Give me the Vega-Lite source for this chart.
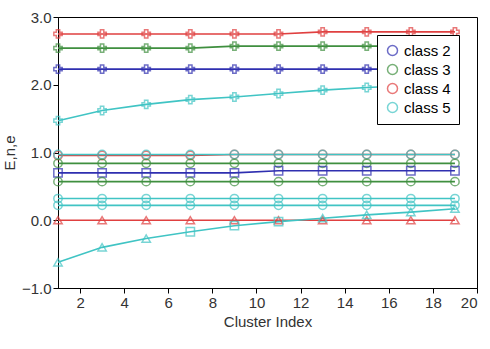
{
  "$schema": "https://vega.github.io/schema/vega-lite/v6.json",
  "width": 419,
  "height": 271,
  "autosize": {"type": "none"},
  "padding": {"left": 58, "top": 17, "right": 13, "bottom": 61},
  "background": "white",
  "config": {
    "view": {"stroke": "black", "strokeWidth": 1},
    "axis": {"grid": false, "domainColor": "black", "tickColor": "black", "labelColor": "#333", "titleColor": "#333", "labelFont": "Liberation Sans", "titleFont": "Liberation Sans", "labelFontSize": 15, "titleFontSize": 15, "titleFontWeight": "normal"}
  },
  "data": {"values": [
    {"s":"E2","c":"class 2","m":"d-star","xi":1,"v":2.23},{"s":"E2","c":"class 2","m":"d-star","xi":3,"v":2.23},{"s":"E2","c":"class 2","m":"d-star","xi":5,"v":2.23},{"s":"E2","c":"class 2","m":"d-star","xi":7,"v":2.23},{"s":"E2","c":"class 2","m":"d-star","xi":9,"v":2.23},{"s":"E2","c":"class 2","m":"d-star","xi":11,"v":2.23},{"s":"E2","c":"class 2","m":"d-star","xi":13,"v":2.23},{"s":"E2","c":"class 2","m":"d-star","xi":15,"v":2.23},{"s":"E2","c":"class 2","m":"d-star","xi":17,"v":2.23},{"s":"E2","c":"class 2","m":"d-star","xi":19,"v":2.23},
    {"s":"E3","c":"class 3","m":"d-star","xi":1,"v":2.54},{"s":"E3","c":"class 3","m":"d-star","xi":3,"v":2.54},{"s":"E3","c":"class 3","m":"d-star","xi":5,"v":2.54},{"s":"E3","c":"class 3","m":"d-star","xi":7,"v":2.54},{"s":"E3","c":"class 3","m":"d-star","xi":9,"v":2.57},{"s":"E3","c":"class 3","m":"d-star","xi":11,"v":2.57},{"s":"E3","c":"class 3","m":"d-star","xi":13,"v":2.57},{"s":"E3","c":"class 3","m":"d-star","xi":15,"v":2.57},{"s":"E3","c":"class 3","m":"d-star","xi":17,"v":2.57},{"s":"E3","c":"class 3","m":"d-star","xi":19,"v":2.57},
    {"s":"E4","c":"class 4","m":"d-star","xi":1,"v":2.75},{"s":"E4","c":"class 4","m":"d-star","xi":3,"v":2.75},{"s":"E4","c":"class 4","m":"d-star","xi":5,"v":2.75},{"s":"E4","c":"class 4","m":"d-star","xi":7,"v":2.75},{"s":"E4","c":"class 4","m":"d-star","xi":9,"v":2.75},{"s":"E4","c":"class 4","m":"d-star","xi":11,"v":2.75},{"s":"E4","c":"class 4","m":"d-star","xi":13,"v":2.78},{"s":"E4","c":"class 4","m":"d-star","xi":15,"v":2.78},{"s":"E4","c":"class 4","m":"d-star","xi":17,"v":2.78},{"s":"E4","c":"class 4","m":"d-star","xi":19,"v":2.78},
    {"s":"E5","c":"class 5","m":"d-star","xi":1,"v":1.47},{"s":"E5","c":"class 5","m":"d-star","xi":3,"v":1.62},{"s":"E5","c":"class 5","m":"d-star","xi":5,"v":1.71},{"s":"E5","c":"class 5","m":"d-star","xi":7,"v":1.78},{"s":"E5","c":"class 5","m":"d-star","xi":9,"v":1.82},{"s":"E5","c":"class 5","m":"d-star","xi":11,"v":1.87},{"s":"E5","c":"class 5","m":"d-star","xi":13,"v":1.92},{"s":"E5","c":"class 5","m":"d-star","xi":15,"v":1.96},{"s":"E5","c":"class 5","m":"d-star","xi":17,"v":1.99},{"s":"E5","c":"class 5","m":"d-star","xi":19,"v":2.02},
    {"s":"N4","c":"class 4","m":"a-circle","xi":1,"v":0.955},{"s":"N4","c":"class 4","m":"a-circle","xi":3,"v":0.955},{"s":"N4","c":"class 4","m":"a-circle","xi":5,"v":0.955},{"s":"N4","c":"class 4","m":"a-circle","xi":7,"v":0.955},{"s":"N4","c":"class 4","m":"a-circle","xi":9,"v":0.97},{"s":"N4","c":"class 4","m":"a-circle","xi":11,"v":0.97},{"s":"N4","c":"class 4","m":"a-circle","xi":13,"v":0.97},{"s":"N4","c":"class 4","m":"a-circle","xi":15,"v":0.97},{"s":"N4","c":"class 4","m":"a-circle","xi":17,"v":0.97},{"s":"N4","c":"class 4","m":"a-circle","xi":19,"v":0.97},
    {"s":"N5","c":"class 5","m":"a-circle","xi":1,"v":0.97},{"s":"N5","c":"class 5","m":"a-circle","xi":3,"v":0.97},{"s":"N5","c":"class 5","m":"a-circle","xi":5,"v":0.97},{"s":"N5","c":"class 5","m":"a-circle","xi":7,"v":0.97},{"s":"N5","c":"class 5","m":"a-circle","xi":9,"v":0.97},{"s":"N5","c":"class 5","m":"a-circle","xi":11,"v":0.97},{"s":"N5","c":"class 5","m":"a-circle","xi":13,"v":0.97},{"s":"N5","c":"class 5","m":"a-circle","xi":15,"v":0.97},{"s":"N5","c":"class 5","m":"a-circle","xi":17,"v":0.97},{"s":"N5","c":"class 5","m":"a-circle","xi":19,"v":0.97},
    {"s":"N3","c":"class 3","m":"a-circle","xi":1,"v":0.84},{"s":"N3","c":"class 3","m":"a-circle","xi":3,"v":0.84},{"s":"N3","c":"class 3","m":"a-circle","xi":5,"v":0.84},{"s":"N3","c":"class 3","m":"a-circle","xi":7,"v":0.84},{"s":"N3","c":"class 3","m":"a-circle","xi":9,"v":0.84},{"s":"N3","c":"class 3","m":"a-circle","xi":11,"v":0.84},{"s":"N3","c":"class 3","m":"a-circle","xi":13,"v":0.84},{"s":"N3","c":"class 3","m":"a-circle","xi":15,"v":0.84},{"s":"N3","c":"class 3","m":"a-circle","xi":17,"v":0.84},{"s":"N3","c":"class 3","m":"a-circle","xi":19,"v":0.84},
    {"s":"N2","c":"class 2","m":"b-square","xi":1,"v":0.70},{"s":"N2","c":"class 2","m":"b-square","xi":3,"v":0.70},{"s":"N2","c":"class 2","m":"b-square","xi":5,"v":0.70},{"s":"N2","c":"class 2","m":"b-square","xi":7,"v":0.70},{"s":"N2","c":"class 2","m":"b-square","xi":9,"v":0.70},{"s":"N2","c":"class 2","m":"b-square","xi":11,"v":0.73},{"s":"N2","c":"class 2","m":"b-square","xi":13,"v":0.73},{"s":"N2","c":"class 2","m":"b-square","xi":15,"v":0.73},{"s":"N2","c":"class 2","m":"b-square","xi":17,"v":0.73},{"s":"N2","c":"class 2","m":"b-square","xi":19,"v":0.73},
    {"s":"e3","c":"class 3","m":"a-circle","xi":1,"v":0.57},{"s":"e3","c":"class 3","m":"a-circle","xi":3,"v":0.57},{"s":"e3","c":"class 3","m":"a-circle","xi":5,"v":0.57},{"s":"e3","c":"class 3","m":"a-circle","xi":7,"v":0.57},{"s":"e3","c":"class 3","m":"a-circle","xi":9,"v":0.57},{"s":"e3","c":"class 3","m":"a-circle","xi":11,"v":0.57},{"s":"e3","c":"class 3","m":"a-circle","xi":13,"v":0.57},{"s":"e3","c":"class 3","m":"a-circle","xi":15,"v":0.57},{"s":"e3","c":"class 3","m":"a-circle","xi":17,"v":0.57},{"s":"e3","c":"class 3","m":"a-circle","xi":19,"v":0.57},
    {"s":"e5a","c":"class 5","m":"a-circle","xi":1,"v":0.32},{"s":"e5a","c":"class 5","m":"a-circle","xi":3,"v":0.32},{"s":"e5a","c":"class 5","m":"a-circle","xi":5,"v":0.32},{"s":"e5a","c":"class 5","m":"a-circle","xi":7,"v":0.32},{"s":"e5a","c":"class 5","m":"a-circle","xi":9,"v":0.32},{"s":"e5a","c":"class 5","m":"a-circle","xi":11,"v":0.32},{"s":"e5a","c":"class 5","m":"a-circle","xi":13,"v":0.32},{"s":"e5a","c":"class 5","m":"a-circle","xi":15,"v":0.32},{"s":"e5a","c":"class 5","m":"a-circle","xi":17,"v":0.32},{"s":"e5a","c":"class 5","m":"a-circle","xi":19,"v":0.32},
    {"s":"e5b","c":"class 5","m":"a-circle","xi":1,"v":0.22},{"s":"e5b","c":"class 5","m":"a-circle","xi":3,"v":0.22},{"s":"e5b","c":"class 5","m":"a-circle","xi":5,"v":0.22},{"s":"e5b","c":"class 5","m":"a-circle","xi":7,"v":0.22},{"s":"e5b","c":"class 5","m":"a-circle","xi":9,"v":0.22},{"s":"e5b","c":"class 5","m":"a-circle","xi":11,"v":0.22},{"s":"e5b","c":"class 5","m":"a-circle","xi":13,"v":0.22},{"s":"e5b","c":"class 5","m":"a-circle","xi":15,"v":0.22},{"s":"e5b","c":"class 5","m":"a-circle","xi":17,"v":0.22},{"s":"e5b","c":"class 5","m":"a-circle","xi":19,"v":0.22},
    {"s":"T4","c":"class 4","m":"c-triangle","xi":1,"v":0.0},{"s":"T4","c":"class 4","m":"c-triangle","xi":3,"v":0.0},{"s":"T4","c":"class 4","m":"c-triangle","xi":5,"v":0.0},{"s":"T4","c":"class 4","m":"c-triangle","xi":7,"v":0.0},{"s":"T4","c":"class 4","m":"c-triangle","xi":9,"v":0.0},{"s":"T4","c":"class 4","m":"c-triangle","xi":11,"v":0.0},{"s":"T4","c":"class 4","m":"c-triangle","xi":13,"v":0.0},{"s":"T4","c":"class 4","m":"c-triangle","xi":15,"v":0.0},{"s":"T4","c":"class 4","m":"c-triangle","xi":17,"v":0.0},{"s":"T4","c":"class 4","m":"c-triangle","xi":19,"v":0.0},
    {"s":"T5","c":"class 5","m":"c-triangle","xi":1,"v":-0.62},{"s":"T5","c":"class 5","m":"c-triangle","xi":3,"v":-0.40},{"s":"T5","c":"class 5","m":"c-triangle","xi":5,"v":-0.27},{"s":"T5","c":"class 5","m":"b-square","xi":7,"v":-0.17},{"s":"T5","c":"class 5","m":"b-square","xi":9,"v":-0.08},{"s":"T5","c":"class 5","m":"b-square","xi":11,"v":-0.02},{"s":"T5","c":"class 5","m":"c-triangle","xi":13,"v":0.03},{"s":"T5","c":"class 5","m":"c-triangle","xi":15,"v":0.08},{"s":"T5","c":"class 5","m":"c-triangle","xi":17,"v":0.12},{"s":"T5","c":"class 5","m":"c-triangle","xi":19,"v":0.17}
  ]},
  "layer": [
    {
      "mark": {"type": "line", "strokeWidth": 1.6},
      "encoding": {
        "x": {"field": "xi", "type": "quantitative", "scale": {"domain": [1, 20], "nice": false, "zero": false}, "axis": {"values": [2,4,6,8,10,12,14,16,18,20], "title": "Cluster Index"}},
        "y": {"field": "v", "type": "quantitative", "scale": {"domain": [-1, 3], "nice": false, "zero": false}, "axis": {"values": [-1,0,1,2,3], "title": "E,n,e"}},
        "detail": {"field": "s"},
        "color": {"field": "c", "type": "nominal", "scale": {"domain": ["class 2","class 3","class 4","class 5"], "range": ["#2f2fb0","#3f8f3f","#e04040","#40c4c4"]},
          "legend": {"title": null, "orient": "top-right", "fillColor": "white", "strokeColor": "black", "padding": 8, "labelFontSize": 15}}
      }
    },
    {
      "mark": {"type": "point", "filled": false, "strokeWidth": 1.5, "size": 70},
      "encoding": {
        "x": {"field": "xi", "type": "quantitative"},
        "y": {"field": "v", "type": "quantitative"},
        "color": {"field": "c", "type": "nominal"},
        "shape": {"field": "m", "type": "nominal", "legend": null}
      }
    }
  ]
}
